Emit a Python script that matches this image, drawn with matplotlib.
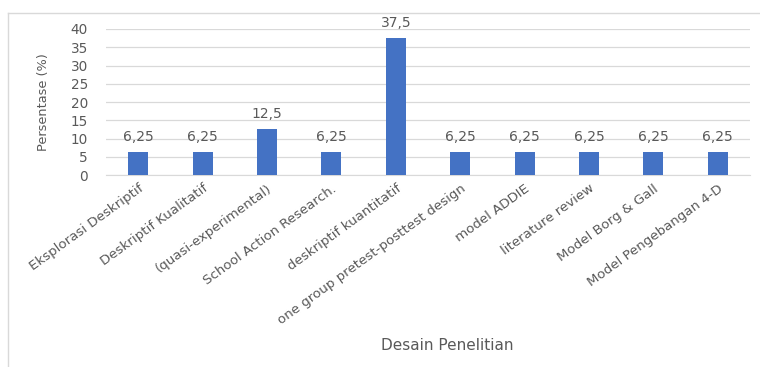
import matplotlib.pyplot as plt
import numpy as np

# data
desain = [
    "Eksplorasi Deskriptif",
    "Deskriptif Kualitatif",
    "(quasi-experimental)",
    "School Action Research.",
    "deskriptif kuantitatif",
    "one group pretest-posttest design",
    "model ADDIE",
    "literature review",
    "Model Borg & Gall",
    "Model Pengebangan 4-D",
]
persentase = [6.25, 6.25, 12.5, 6.25, 37.5, 6.25, 6.25, 6.25, 6.25, 6.25]
label_nilai = ["6,25", "6,25", "12,5", "6,25", "37,5", "6,25", "6,25", "6,25", "6,25", "6,25"]
y_ticks = [0, 5, 10, 15, 20, 25, 30, 35, 40]

plt.rcParams['font.family'] = ['DejaVu Sans']
text_color = '#595959'
grid_color = '#d9d9d9'
bar_color = '#4472c4'

W, H = 760, 367
fig = plt.figure(figsize=(W / 100, H / 100), dpi=100)

# chart frame (only the top and left edges show)
fig.add_artist(plt.Line2D([8 / W, 8 / W], [0, 1 - 13 / H], color=grid_color, lw=1))
fig.add_artist(plt.Line2D([8 / W, 1], [1 - 13 / H, 1 - 13 / H], color=grid_color, lw=1))

ax = fig.add_axes([106 / W, 1 - 175 / H, 644 / W, 146 / H])
x = np.arange(len(desain))
bars = ax.bar(x, persentase, width=0.31, color=bar_color, zorder=3)

ax.set_xlim(-0.5, len(desain) - 0.5)
ax.set_ylim(0, 40)
ax.set_yticks(y_ticks)
ax.yaxis.grid(True, color=grid_color, lw=0.9, zorder=0)
for s in ['top', 'right', 'left']:
    ax.spines[s].set_visible(False)
ax.spines['bottom'].set_color(grid_color)
ax.tick_params(axis='both', length=0, colors=text_color)
ax.tick_params(axis='y', pad=13, labelsize=9.8)

ax.set_xticks(x)
ax.set_xticklabels(desain, rotation=36, ha='right', rotation_mode='anchor')
ax.tick_params(axis='x', pad=5, labelsize=9.6)

for b, v, t in zip(bars, persentase, label_nilai):
    ax.annotate(t, (b.get_x() + b.get_width() / 2, v), xytext=(0, 6),
                textcoords='offset points', ha='center', va='bottom',
                fontsize=10, color=text_color)

ax.set_ylabel("Persentase (%)", color=text_color, fontsize=9.3)
ax.yaxis.set_label_coords(-56 / 644, 0.5)
fig.text(447 / W, 1 - 345 / H, "Desain Penelitian", ha='center', va='center',
         fontsize=11, color=text_color)

fig.savefig("out.png", dpi=100)
